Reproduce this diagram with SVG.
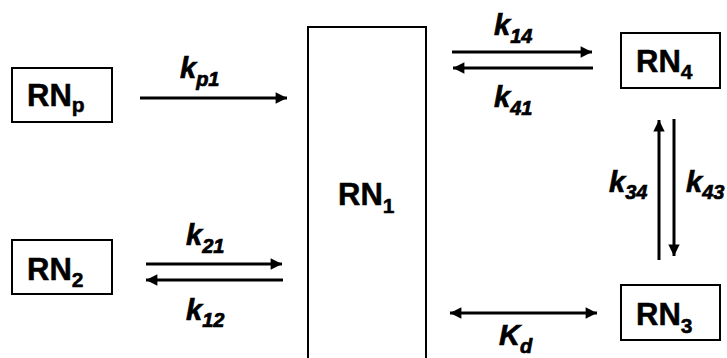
<svg xmlns="http://www.w3.org/2000/svg" width="727" height="358" viewBox="0 0 727 358">
<defs>
<style>
.box{fill:#fff;stroke:#000;stroke-width:2}
.rn{font-family:"Liberation Sans",Arial,sans-serif;font-weight:bold;font-size:31px;fill:#000;stroke:#000;stroke-width:0.5}
.rs{font-size:21px}
.k{font-family:"Liberation Sans",Arial,sans-serif;font-weight:bold;font-style:italic;font-size:29px;fill:#000;stroke:#000;stroke-width:0.7}
.ks{font-size:20px}
.ln{stroke:#000;stroke-width:3;fill:none}
</style>
<marker id="ah" viewBox="0 0 10 10" refX="10" refY="5" markerWidth="5.2" markerHeight="3.8" markerUnits="strokeWidth" orient="auto-start-reverse">
<path d="M0,0 L10,5 L0,10 Z" fill="#000"/>
</marker>
</defs>
<rect width="727" height="358" fill="#fff"/>
<g id="RNp"><rect class="box" x="12" y="68" width="100" height="54"/><text class="rn" x="27" y="106">RN<tspan class="rs" dy="6">p</tspan></text></g>
<g id="RN2"><rect class="box" x="12" y="240" width="100" height="54"/><text class="rn" x="27" y="280">RN<tspan class="rs" dy="7">2</tspan></text></g>
<g id="RN1"><rect class="box" x="308" y="27" width="118" height="340"/><text class="rn" x="338" y="205">RN<tspan class="rs" dy="8">1</tspan></text></g>
<g id="RN4"><rect class="box" x="621" y="33" width="99" height="55"/><text class="rn" x="636" y="72">RN<tspan class="rs" dy="7">4</tspan></text></g>
<g id="RN3"><rect class="box" x="621" y="285" width="99" height="55"/><text class="rn" x="636" y="325">RN<tspan class="rs" dy="8">3</tspan></text></g>
<g id="connectors">
<line class="ln" x1="140" y1="98" x2="287" y2="98" marker-end="url(#ah)"/>
<line class="ln" x1="146" y1="264" x2="282" y2="264" marker-end="url(#ah)"/>
<line class="ln" x1="283" y1="280" x2="146" y2="280" marker-end="url(#ah)"/>
<line class="ln" x1="452" y1="52" x2="592" y2="52" marker-end="url(#ah)"/>
<line class="ln" x1="593" y1="68" x2="453" y2="68" marker-end="url(#ah)"/>
<line class="ln" x1="659" y1="260" x2="659" y2="120" marker-end="url(#ah)"/>
<line class="ln" x1="674" y1="119" x2="674" y2="256" marker-end="url(#ah)"/>
<line class="ln" x1="450" y1="313" x2="597" y2="313" marker-start="url(#ah)" marker-end="url(#ah)"/>
<text class="k" x="180" y="78">k<tspan class="ks" dy="8">p1</tspan></text>
<text class="k" x="186" y="245">k<tspan class="ks" dy="8">21</tspan></text>
<text class="k" x="186" y="320">k<tspan class="ks" dy="7">12</tspan></text>
<text class="k" x="494" y="35">k<tspan class="ks" dy="8">14</tspan></text>
<text class="k" x="494" y="107">k<tspan class="ks" dy="8">41</tspan></text>
<text class="k" x="609" y="192">k<tspan class="ks" dy="7">34</tspan></text>
<text class="k" x="686" y="192">k<tspan class="ks" dy="7">43</tspan></text>
<text class="k" x="499" y="345">K<tspan class="ks" dy="8">d</tspan></text>
</g>
</svg>
